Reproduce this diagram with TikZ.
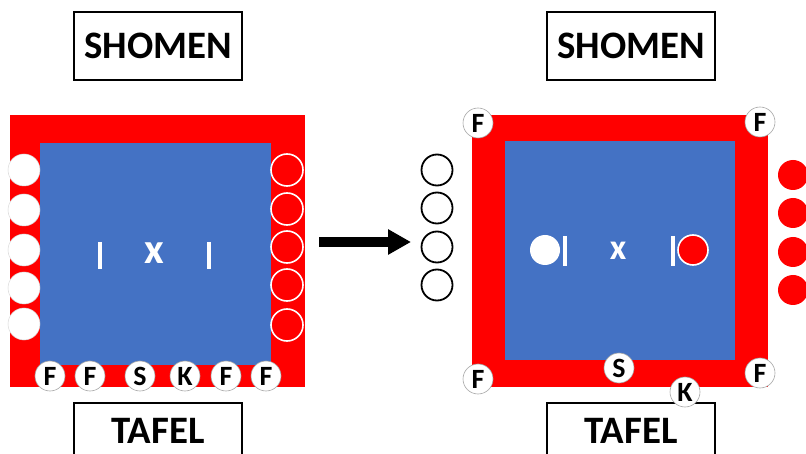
\documentclass[tikz,border=0pt]{standalone}
\usepackage{fontspec}
\setmainfont{Carlito}
\usetikzlibrary{arrows.meta}
\definecolor{matred}{HTML}{FF0000}
\definecolor{matblue}{HTML}{4472C4}
\begin{document}
\begin{tikzpicture}[x=1bp,y=-1bp,
  outerboard/.style={rectangle, fill=matred, draw=none, inner sep=0},
  innerboard/.style={rectangle, fill=matblue, draw=none, inner sep=0},
  titlebox/.style={rectangle, draw=black, line width=1.6bp, fill=white, inner sep=0,
    minimum width=168bp, font=\bfseries\fontsize{39}{39}\selectfont},
  judge/.style={circle, fill=white, draw=black!35, line width=0.6bp, minimum size=30bp,
    inner sep=0, font=\bfseries\fontsize{28}{28}\selectfont},
  whitestone/.style={circle, fill=white, draw=black!15, line width=0.5bp, minimum size=32bp, inner sep=0},
  redring/.style={circle, fill=matred, draw=white, line width=1.6bp, minimum size=32bp, inner sep=0},
  blackring/.style={circle, fill=white, draw=black, line width=1.8bp, minimum size=31bp, inner sep=0},
  reddot/.style={circle, fill=matred, draw=none, minimum size=30bp, inner sep=0},
  bar/.style={draw=white, line width=3.5bp},
  centremark/.style={text=white, inner sep=0, font=\bfseries\fontsize{#1}{#1}\selectfont},
]
\useasboundingbox (0,0) rectangle (806,454);

% ---------- title boxes ----------
\node[titlebox, minimum height=68bp] (shomenL) at (158,46) {SHOMEN};
\node[titlebox, minimum height=68bp] (shomenR) at (631,46) {SHOMEN};
\begin{scope}
\clip (0,0) rectangle (806,454);
\node[titlebox, anchor=north, text height=41bp, text depth=30bp] (tafelL) at (158,402) {TAFEL};
\node[titlebox, anchor=north, text height=41bp, text depth=30bp] (tafelR) at (631,402) {TAFEL};
\end{scope}

% ---------- left board ----------
\node[outerboard, minimum width=295bp, minimum height=272bp] (boardL) at (157.5,251) {};
\node[innerboard, minimum width=231bp, minimum height=222bp] (matL) at (155.5,254) {};

% white players along the left edge
\foreach \y [count=\i] in {170,210,250,288,324}
  \node[whitestone] (wL\i) at (24,\y) {};
% red players along the right edge
\foreach \y [count=\i] in {170,209,247,285,325}
  \node[redring] (rL\i) at (287,\y) {};
% referees and officials along the bottom
\foreach \x/\t [count=\i] in {50/F,90/F,140/S,185/K,226/F,266/F}
  \node[judge] (jL\i) at (\x,376) {\t};

% starting lines and centre mark
\coordinate (lbarL1) at (100,242); \coordinate (lbarL2) at (100,269);
\coordinate (rbarL1) at (209,242); \coordinate (rbarL2) at (209,269);
\draw[bar] (lbarL1) -- (lbarL2);
\draw[bar] (rbarL1) -- (rbarL2);
\node[centremark=43] (xL) at (154,253) {x};

% ---------- arrow ----------
\coordinate (arrS) at (319,242);
\coordinate (arrE) at (411,242);
\draw[line width=10bp, -{Triangle[length=23bp,width=24bp]}] (arrS) -- (arrE);

% ---------- right board ----------
\node[outerboard, minimum width=296bp, minimum height=272bp] (boardR) at (620,251) {};
\node[innerboard, minimum width=230bp, minimum height=219bp] (matR) at (620,250.5) {};

% waiting white players
\foreach \y [count=\i] in {170,208,247,285}
  \node[blackring] (wR\i) at (437,\y) {};
% waiting red players
\foreach \y [count=\i] in {175,213,252,290}
  \node[reddot] (rR\i) at (793,\y) {};

% fighters on the mat
\node[circle, fill=white, minimum size=30bp, inner sep=0] (fW) at (545,250) {};
\node[redring, minimum size=30bp] (fR) at (693,250) {};
\coordinate (lbarR1) at (565,236); \coordinate (lbarR2) at (565,266);
\coordinate (rbarR1) at (673,236); \coordinate (rbarR2) at (673,266);
\draw[bar] (lbarR1) -- (lbarR2);
\draw[bar] (rbarR1) -- (rbarR2);
\node[centremark=36] (xR) at (618,251) {x};

% corner referees, referee and scorer
\node[judge] (fR1) at (478,123) {F};
\node[judge] (fR2) at (760,122) {F};
\node[judge] (fR3) at (478,379) {F};
\node[judge] (fR4) at (760,373) {F};
\node[judge] (sR) at (619,368) {S};
\node[judge] (kR) at (685,392) {K};
\end{tikzpicture}
\end{document}
